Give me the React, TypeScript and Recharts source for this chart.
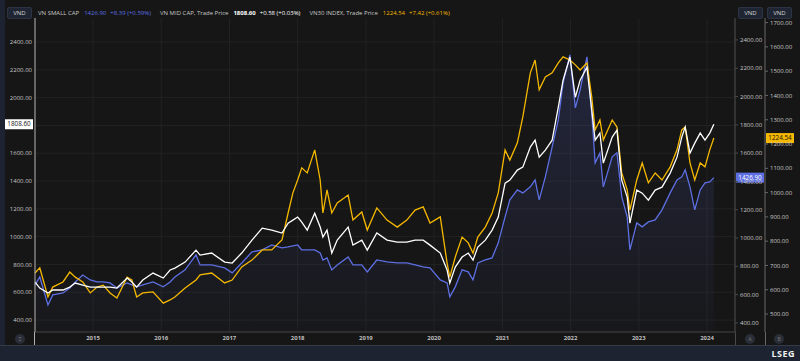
import React from "react";
import {
  ComposedChart,
  Line,
  Area,
  XAxis,
  YAxis,
  CartesianGrid,
  ReferenceLine,
} from "recharts";

// time as decimal years
const dates = [
  2014.15, 2014.22, 2014.34, 2014.41, 2014.56, 2014.66, 2014.74, 2014.85, 2014.96,
  2015.06, 2015.15, 2015.25, 2015.35, 2015.5, 2015.57, 2015.64, 2015.73, 2015.88,
  2016.03, 2016.13, 2016.2, 2016.35, 2016.51, 2016.57, 2016.74, 2016.93,
  2017.04, 2017.18, 2017.33, 2017.48, 2017.62, 2017.77, 2017.86, 2017.93,
  2018.0, 2018.06, 2018.14, 2018.25, 2018.33, 2018.37, 2018.43, 2018.5, 2018.58, 2018.74, 2018.81, 2018.94,
  2019.02, 2019.16, 2019.31, 2019.46, 2019.6, 2019.72, 2019.84, 2019.94,
  2020.09, 2020.19, 2020.23, 2020.31, 2020.41, 2020.5, 2020.57, 2020.64, 2020.75, 2020.85, 2020.94,
  2021.04, 2021.11, 2021.22, 2021.3, 2021.41, 2021.48, 2021.54, 2021.63, 2021.73, 2021.82, 2021.89, 2021.99,
  2022.07, 2022.14, 2022.24, 2022.31, 2022.36, 2022.43, 2022.48, 2022.61, 2022.68, 2022.75, 2022.83, 2022.87, 2022.97,
  2023.05, 2023.14, 2023.24, 2023.34, 2023.46, 2023.56, 2023.63, 2023.68, 2023.75, 2023.82, 2023.9, 2023.97,
  2024.04, 2024.1,
];

// VN MID CAP (white, left axis)
const midCap = [
  673, 630, 594, 616, 616, 637, 666, 652, 637,
  637, 637, 637, 630, 702, 673, 637, 688, 738,
  702, 760, 774, 817, 903, 867, 882, 817,
  810, 882, 975, 1061, 1047, 1026, 1097, 1119,
  1141, 1105, 1047, 1169, 1069, 997, 1047, 882, 975, 1069, 939, 975,
  903, 1026, 975, 961, 961, 975, 975, 939,
  882, 760, 666, 781, 853, 882, 831, 925, 975, 1047, 1141,
  1385, 1407, 1479, 1500, 1644, 1694, 1572, 1622, 1694, 1931, 2126, 2291,
  2003, 2126, 2219, 1910, 1694, 1745, 1529, 1716, 1766, 1407, 1284, 1097, 1335,
  1313, 1263, 1335, 1356, 1457, 1572, 1716, 1788, 1601, 1673, 1745, 1694,
  1745, 1808.6,
];

// VN SMALL CAP (blue, right axis A)
const smallCap = [
  669, 725, 527, 598, 612, 647, 690, 739, 704,
  690, 690, 683, 647, 683, 669, 655, 669, 690,
  655, 690, 725, 775, 881, 810, 810, 789,
  754, 824, 902, 916, 951, 930, 937, 944,
  951, 916, 916, 916, 895, 845, 860, 775, 810, 867, 810, 810,
  761, 845, 831, 824, 824, 810, 796, 789,
  704, 683, 584, 655, 775, 761, 704, 824, 845, 860, 966,
  1149, 1270, 1340, 1319, 1362, 1411, 1270, 1432, 1644, 1835, 2097, 2295,
  1920, 2047, 2281, 1885, 1531, 1602, 1362, 1574, 1602, 1291, 1149, 916, 1107,
  1079, 1114, 1128, 1199, 1319, 1411, 1432, 1482, 1362, 1199, 1340, 1390,
  1397, 1426.9,
];

// VN30 INDEX (yellow, right axis B)
const vn30 = [
  669, 690, 570, 611, 632, 673, 652, 632, 587,
  611, 619, 587, 566, 652, 640, 570, 587, 591,
  545, 558, 570, 607, 640, 661, 669, 628,
  640, 694, 722, 764, 764, 805, 916, 999,
  1052, 1102, 1081, 1176, 1052, 916, 1011, 916, 957, 990, 887, 920,
  846, 937, 887, 858, 887, 928, 941, 875,
  900, 710, 652, 735, 817, 793, 751, 817, 858, 916, 999,
  1176, 1134, 1205, 1312, 1493, 1546, 1423, 1476, 1493, 1534, 1559, 1546,
  1526, 1505, 1534, 1394, 1258, 1299, 1217, 1299, 1270, 1081, 1011, 928, 1052,
  1122, 1040, 1081, 1052, 1106, 1176, 1258, 1270, 1122, 1052, 1122, 1106,
  1176, 1224.54,
];

const yearTicks = [2015, 2016, 2017, 2018, 2019, 2020, 2021, 2022, 2023, 2024];
const gridValues = [400, 600, 800, 1000, 1200, 1400, 1600, 1800, 2000, 2200, 2400];
// 1800 label sits under the price tag in the reference
const leftTicks = [400, 600, 800, 1000, 1200, 1400, 1600, 2000, 2200, 2400];
const smallTicks = [400, 600, 800, 1000, 1200, 1400, 1600, 1800, 2000, 2200, 2400];
const vn30Ticks = [500, 600, 700, 800, 900, 1000, 1100, 1200, 1300, 1400, 1500, 1600, 1700];

const data = dates.map((t, i) => ({
  t,
  mid: midCap[i],
  small: smallCap[i],
  vn30: vn30[i],
}));

const last = dates.length - 1;

const BG = "#161616";
const FRAME = "#1d2330";
const TXT = "#c8c8c8";
const BLUE = "#5d6fe3";
const YELLOW = "#f5b800";
const FONT = "'Open Sans', 'Noto Sans', sans-serif";

function PriceTag(props: any) {
  const { viewBox, text, fill, color, side } = props;
  if (!viewBox) return null;
  const y = viewBox.y;
  let x = viewBox.x - 30;
  if (side === "a") x = viewBox.x + viewBox.width + 1;
  if (side === "b") x = viewBox.x + viewBox.width + 31;
  return (
    <g>
      <rect x={x} y={y - 5} width={28} height={10} fill={fill} />
      <text
        x={x + 14}
        y={y + 2.2}
        textAnchor="middle"
        fontSize={6.3}
        fontFamily={FONT}
        fill={color}
      >
        {text}
      </text>
    </g>
  );
}

const tickStyle = { fontSize: 6, fill: TXT, fontFamily: FONT };

function Circle({ x, label }: { x: number; label: string }) {
  return (
    <div
      style={{
        position: "absolute",
        left: x - 5,
        top: 334,
        width: 10,
        height: 10,
        borderRadius: 5,
        background: "#2a2e38",
        color: "#777",
        fontSize: 5,
        lineHeight: "10px",
        textAlign: "center",
        fontFamily: FONT,
      }}
    >
      {label}
    </div>
  );
}

function Vnd({ x }: { x: number }) {
  return (
    <div
      style={{
        position: "absolute",
        left: x,
        top: 7,
        width: 25,
        height: 12,
        background: "#1f2533",
        border: "1px solid #2c3444",
        borderRadius: 2,
        boxSizing: "border-box",
        color: "#d8d8d8",
        fontSize: 6,
        lineHeight: "10px",
        textAlign: "center",
        fontFamily: FONT,
      }}
    >
      VND
    </div>
  );
}

export default function App() {
  return (
    <div
      style={{
        position: "fixed",
        left: 0,
        top: 0,
        width: 800,
        height: 361,
        background: BG,
        overflow: "hidden",
        fontFamily: FONT,
      }}
    >
      <div style={{ position: "absolute", left: 0, top: 0, width: 5, height: 361, background: FRAME }} />
      <div style={{ position: "absolute", left: 0, top: 345, width: 800, height: 16, background: FRAME, borderTop: "1px solid #333a48" }} />
      {/* crosshair continues through the date row */}
      <div style={{ position: "absolute", left: 34, top: 332, width: 1, height: 13, background: "#b0b0b0" }} />
      <div style={{ position: "absolute", left: 735, top: 332, width: 1, height: 13, background: "#4a4a4a" }} />
      <div style={{ position: "absolute", left: 765, top: 332, width: 1, height: 13, background: "#666" }} />

      <div style={{ position: "absolute", left: 5, top: 0 }}>
        <ComposedChart
          width={795}
          height={361}
          data={data}
          margin={{ top: 18, right: 0, bottom: 16, left: 0 }}
        >
          <defs>
            <linearGradient id="smallFill" x1="0" y1="0" x2="0" y2="1">
              <stop offset="0%" stopColor={BLUE} stopOpacity={0.32} />
              <stop offset="100%" stopColor={BLUE} stopOpacity={0.04} />
            </linearGradient>
          </defs>
          <CartesianGrid yAxisId="left" stroke="#222222" strokeWidth={1} horizontalValues={gridValues} />
          <XAxis
            dataKey="t"
            type="number"
            domain={[2014.15, 2024.41]}
            ticks={yearTicks}
            tickFormatter={(v: number) => String(v)}
            height={13}
            tickSize={0}
            tickMargin={4}
            axisLine={{ stroke: "#444" }}
            tick={{ ...tickStyle, fontWeight: 700, fill: "#bdbdbd" }}
            interval={0}
          />
          <YAxis
            yAxisId="left"
            orientation="left"
            width={30}
            domain={[314, 2573]}
            ticks={leftTicks}
            tickFormatter={(v: number) => v.toFixed(2)}
            tickSize={0}
            tickMargin={3}
            axisLine={{ stroke: "#b0b0b0" }}
            tickLine={false}
            tick={tickStyle}
            interval={0}
          />
          <YAxis
            yAxisId="a"
            orientation="right"
            width={30}
            domain={[336, 2555]}
            ticks={smallTicks}
            tickFormatter={(v: number) => v.toFixed(2)}
            tickSize={3}
            tickMargin={2}
            axisLine={{ stroke: "#4a4a4a" }}
            tickLine={{ stroke: "#4a4a4a" }}
            tick={tickStyle}
            interval={0}
          />
          <YAxis
            yAxisId="b"
            orientation="right"
            width={35}
            domain={[426, 1719]}
            ticks={vn30Ticks}
            tickFormatter={(v: number) => v.toFixed(2)}
            tickSize={3}
            tickMargin={2}
            axisLine={{ stroke: "#666" }}
            tickLine={{ stroke: "#666" }}
            tick={tickStyle}
            interval={0}
          />
          <Area
            yAxisId="a"
            type="linear"
            dataKey="small"
            stroke={BLUE}
            strokeWidth={1.3}
            fill="url(#smallFill)"
            dot={false}
            isAnimationActive={false}
          />
          <Line
            yAxisId="b"
            type="linear"
            dataKey="vn30"
            stroke={YELLOW}
            strokeWidth={1.3}
            dot={false}
            isAnimationActive={false}
          />
          <Line
            yAxisId="left"
            type="linear"
            dataKey="mid"
            stroke="#ffffff"
            strokeWidth={1.3}
            dot={false}
            isAnimationActive={false}
          />
          <ReferenceLine
            yAxisId="left"
            y={midCap[last]}
            strokeOpacity={0}
            label={<PriceTag text={midCap[last].toFixed(2)} fill="#ffffff" color="#111" side="left" />}
          />
          <ReferenceLine
            yAxisId="a"
            y={smallCap[last]}
            strokeOpacity={0}
            label={<PriceTag text={smallCap[last].toFixed(2)} fill={BLUE} color="#fff" side="a" />}
          />
          <ReferenceLine
            yAxisId="b"
            y={vn30[last]}
            strokeOpacity={0}
            label={<PriceTag text={vn30[last].toFixed(2)} fill={YELLOW} color="#111" side="b" />}
          />
        </ComposedChart>
      </div>

      {/* legend row */}
      <Vnd x={7} />
      <Vnd x={738} />
      <Vnd x={767} />
      <div
        style={{
          position: "absolute",
          left: 38,
          top: 9,
          fontSize: 6,
          lineHeight: "8px",
          color: TXT,
          whiteSpace: "nowrap",
        }}
      >
        <span>VN SMALL CAP</span>
        <span style={{ color: BLUE, marginLeft: 5 }}>1426.90</span>
        <span style={{ color: BLUE, marginLeft: 4 }}>+8.39 (+0.59%)</span>
        <span style={{ marginLeft: 9 }}>VN MID CAP, Trade Price</span>
        <span style={{ color: "#fff", fontWeight: 700, marginLeft: 5 }}>1808.60</span>
        <span style={{ color: "#fff", marginLeft: 4 }}>+0.58 (+0.03%)</span>
        <span style={{ marginLeft: 9 }}>VN30 INDEX, Trade Price</span>
        <span style={{ color: YELLOW, marginLeft: 5 }}>1224.54</span>
        <span style={{ color: YELLOW, marginLeft: 4 }}>+7.42 (+0.61%)</span>
      </div>

      {/* bottom controls */}
      <Circle x={20} label="Z" />
      <Circle x={750} label="A" />
      <Circle x={779} label="B" />
      <div
        style={{
          position: "absolute",
          right: 5,
          top: 347,
          fontSize: 9,
          fontWeight: 700,
          color: "#f0f0f0",
          letterSpacing: 0.5,
        }}
      >
        LSEG
      </div>
    </div>
  );
}
